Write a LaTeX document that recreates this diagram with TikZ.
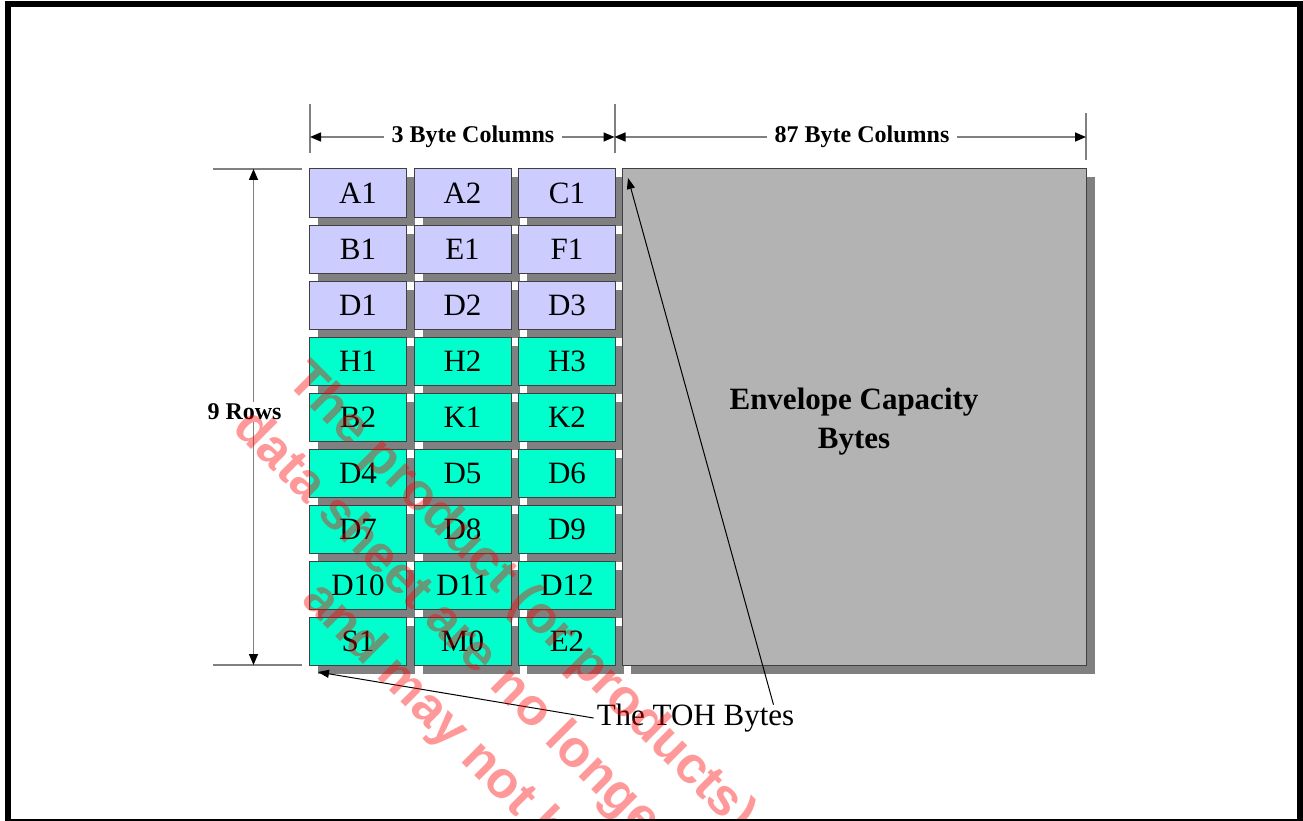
\documentclass[tikz,border=0pt]{standalone}
\usepackage{fontspec}
\setmainfont{Liberation Serif}
\newfontfamily\wmfont{Liberation Sans}
\usepackage{xcolor}
\usetikzlibrary{positioning,arrows.meta,shadows}
\definecolor{tohblue}{RGB}{204,204,255}
\definecolor{tohgreen}{RGB}{0,255,204}
\definecolor{envgray}{RGB}{179,179,179}
\definecolor{shadegray}{RGB}{128,128,128}

\begin{document}
\begin{tikzpicture}[x=1pt, y=-1pt, node distance=8pt and 7.5pt,
  cell/.style={draw=black!75, line width=1pt, minimum width=97pt, minimum height=48pt, inner sep=0pt, outer sep=0pt,
    font=\fontsize{31}{37}\selectfont, drop shadow={shadow xshift=8.5pt, shadow yshift=-8.5pt, fill=shadegray, opacity=1}},
  oh/.style={cell, fill=tohblue},
  lo/.style={cell, fill=tohgreen},
  envbox/.style={cell, fill=envgray, minimum width=464pt, minimum height=496pt},
  envtxt/.style={align=center, inner sep=0pt, font=\fontsize{31}{39}\selectfont\bfseries},
  ext/.style={draw=shadegray, line width=2pt},
  dim/.style={draw=shadegray, line width=1.5pt, {Triangle[length=11pt, width=9pt, color=black]}-{Triangle[length=11pt, width=9pt, color=black]}},
  dimlbl/.style={fill=white, inner xsep=8pt, inner ysep=2pt, font=\fontsize{24}{28}\selectfont\bfseries},
  lead/.style={draw=black, line width=1pt, -{Triangle[length=11pt, width=8pt]}},
  wm/.style={font=\wmfont\bfseries\fontsize{52}{58}\selectfont, text=red, text opacity=0.4, rotate=-45, anchor=base west, inner sep=0pt}]
\useasboundingbox (0,0) rectangle (1303,821);
\clip (0,0) rectangle (1303,821);
% transport overhead
\node[oh] (a1) at (358,193) {A1};
\node[oh, right=of a1] (a2) {A2};
\node[oh, right=of a2] (c1) {C1};
\node[oh, below=of a1] (b1) {B1};
\node[oh, right=of b1] (e1) {E1};
\node[oh, right=of e1] (f1) {F1};
\node[oh, below=of b1] (d1) {D1};
\node[oh, right=of d1] (d2) {D2};
\node[oh, right=of d2] (d3) {D3};
\node[lo, below=of d1] (h1) {H1};
\node[lo, right=of h1] (h2) {H2};
\node[lo, right=of h2] (h3) {H3};
\node[lo, below=of h1] (b2) {B2};
\node[lo, right=of b2] (k1) {K1};
\node[lo, right=of k1] (k2) {K2};
\node[lo, below=of b2] (d4) {D4};
\node[lo, right=of d4] (d5) {D5};
\node[lo, right=of d5] (d6) {D6};
\node[lo, below=of d4] (d7) {D7};
\node[lo, right=of d7] (d8) {D8};
\node[lo, right=of d8] (d9) {D9};
\node[lo, below=of d7] (d10) {D10};
\node[lo, right=of d10] (d11) {D11};
\node[lo, right=of d11] (d12) {D12};
\node[lo, below=of d10] (s1) {S1};
\node[lo, right=of s1] (m0) {M0};
\node[lo, right=of m0] (e2) {E2};
% payload
\node[envbox, anchor=north west] (env) at ([xshift=6.5pt]c1.north east) {};
\node[envtxt] (envlbl) at ([yshift=-5pt]env.center) {Envelope Capacity\\Bytes};
% dimensions
\draw[ext] (310,104) -- (310,153); \draw[ext] (614.5,104) -- (614.5,153); \draw[ext] (1086,113) -- (1086,160);
\draw[ext] (213,169) -- (302,169); \draw[ext] (213,665) -- (302,665);
\draw[dim] (310,137) -- node[dimlbl, pos=0.535] (cols3) {3 Byte Columns} (614.5,137);
\draw[dim] (614.5,137) -- node[dimlbl, pos=0.525] (cols87) {87 Byte Columns} (1086,137);
\draw[dim] (253.5,169) -- (253.5,665);
\node[dimlbl] (rows) at (244.5,412) {9 Rows};
% leaders
\node[font=\fontsize{31}{37}\selectfont, inner sep=3pt] (toh) at (695.5,718) {The TOH Bytes};
\coordinate (tohtip) at (318,672);
\coordinate (envtip) at (628,178);
\draw[lead] (toh.west) -- (tohtip);
\draw[lead] ([xshift=78pt, yshift=-4pt]toh.north) -- (envtip);
% watermark
\node[wm] (wm1) at (285,382) {The product (or products)};
\node[wm] (wm2) at (231,429) {data sheet are no longer};
\node[wm] (wm3) at (300,601) {and may not be};
\draw[line width=6pt] (8,4) rectangle (1300,822);
\end{tikzpicture}
\end{document}
